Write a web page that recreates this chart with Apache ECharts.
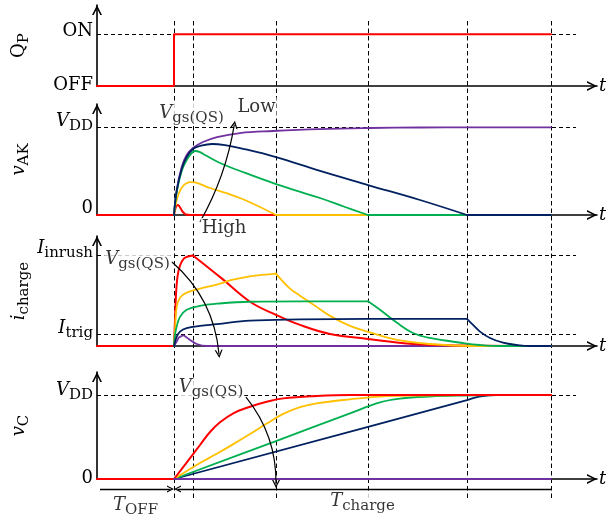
<!DOCTYPE html>
<html>
<head>
<meta charset="utf-8">
<title>Charging waveforms</title>
<script src="https://cdn.jsdelivr.net/npm/echarts@6.0.0/dist/echarts.min.js"></script>
<style>
  html, body { margin: 0; padding: 0; background: #fff; }
  #chart { width: 606px; height: 523px; }
</style>
</head>
<body>
<div id="chart"></div>
<script>
// switching instants on the time axis (arbitrary units, axis runs 0..100)
var marks = [15.4, 19.2, 35.8, 54.2, 74.0, 90.8];
var refEnd = 95.8;

// gate signal Q_P
var qpTickValues = [0, 1];
var qpTickLabels = ['OFF', 'ON'];
var qpStep = [[0, 0], [15.4, 0], [15.4, 1], [90.8, 1]];

// v_AK, normalised to V_DD
var vakTickValues = [0, 1];
var vakTickLabels = ['0', 'V_DD'];
var vakRed = [[0, 0], [15.4, 0], [15.6, 0.057], [15.8, 0.091], [16.14, 0.114], [16.4, 0.103], [16.8, 0.068], [17.2, 0.034], [17.8, 0.006], [18.6, 0], [90.8, 0]];
var vakYellow = [[15.4, 0], [15.8, 0.137], [16.4, 0.251], [17.2, 0.331], [18, 0.365], [18.6, 0.376], [19.6, 0.371], [22.6, 0.308], [28.6, 0.194], [35.8, 0], [90.8, 0]];
var vakGreen = [[15.4, 0], [15.94, 0.262], [16.94, 0.502], [17.94, 0.627], [18.8, 0.696], [19.6, 0.73], [20.6, 0.718], [21.6, 0.684], [24.6, 0.593], [28.6, 0.502], [35.8, 0.353], [44.6, 0.194], [49.6, 0.091], [54.2, 0], [90.8, 0]];
var vakNavy = [[15.4, 0], [15.94, 0.274], [16.94, 0.525], [17.94, 0.661], [19.2, 0.753], [20.6, 0.787], [23, 0.81], [25.6, 0.798], [28.6, 0.764], [35.8, 0.661], [44.6, 0.502], [54.2, 0.342], [64.6, 0.171], [74, 0], [90.8, 0]];
var vakPurple = [[15.4, 0], [15.94, 0.285], [16.94, 0.547], [17.94, 0.684], [19.2, 0.764], [21.2, 0.832], [24, 0.889], [28.6, 0.935], [35.2, 0.958], [44.6, 0.98], [54.6, 0.992], [64.6, 0.998], [74.6, 1], [90.8, 1]];

// i_charge, normalised to I_inrush
var icTickValues = [0, 0.129, 1];
var icTickLabels = ['0', 'I_trig', 'I_inrush'];
var icRed = [[0, 0], [15.4, 0], [15.6, 0.289], [15.8, 0.567], [16.1, 0.767], [16.6, 0.889], [17.4, 0.967], [18.2, 0.989], [19.2, 1], [25, 0.744], [30.6, 0.489], [35.8, 0.344], [40.6, 0.233], [46.6, 0.133], [54.2, 0.078], [63.2, 0.022], [74, 0.005], [90.8, 0]];
var icYellow = [[15.4, 0], [15.6, 0.178], [15.94, 0.433], [16.6, 0.533], [17.94, 0.589], [20.6, 0.633], [23.94, 0.678], [27.2, 0.733], [30.6, 0.77], [35.8, 0.8], [38.6, 0.633], [40.6, 0.556], [43.6, 0.444], [46.6, 0.333], [50.6, 0.222], [54.2, 0.156], [60, 0.067], [66.6, 0.022], [74.6, 0], [90.8, 0]];
var icGreen = [[15.4, 0], [15.6, 0.122], [15.94, 0.214], [16.6, 0.322], [17.94, 0.4], [20.6, 0.444], [23.94, 0.467], [30.6, 0.489], [40.6, 0.494], [54.2, 0.494], [56.6, 0.4], [60, 0.256], [63.2, 0.144], [66.6, 0.089], [73.2, 0.033], [76.6, 0.011], [80.6, 0], [90.8, 0]];
var icNavy = [[15.4, 0], [15.94, 0.103], [16.6, 0.159], [17.94, 0.197], [20.6, 0.222], [23.94, 0.241], [30.6, 0.281], [40.6, 0.294], [54.2, 0.3], [74, 0.3], [75.2, 0.233], [76.6, 0.159], [78.6, 0.089], [81.2, 0.037], [84, 0.011], [86.6, 0], [90.8, 0]];
var icPurple = [[15.4, 0], [16, 0.056], [16.4, 0.094], [16.94, 0.111], [17.26, 0.117], [17.8, 0.1], [18.6, 0.067], [19.94, 0.022], [21.94, 0], [90.8, 0]];

// v_C, normalised to V_DD
var vcTickValues = [0, 1];
var vcTickLabels = ['0', 'V_DD'];
var vcRed = [[0, 0], [15.4, 0], [18, 0.2], [20.6, 0.405], [22.6, 0.56], [24.6, 0.675], [27.26, 0.782], [30.6, 0.861], [33.94, 0.92], [37.26, 0.96], [43.94, 0.988], [50.6, 1], [90.8, 1]];
var vcYellow = [[15.4, 0], [20.6, 0.19], [23.94, 0.3], [27.26, 0.415], [30.6, 0.535], [33.94, 0.66], [37.26, 0.775], [40.6, 0.855], [43.94, 0.9], [50.6, 0.949], [56.6, 0.982], [64.6, 0.994], [74, 1], [90.8, 1]];
var vcGreen = [[15.4, 0], [35.8, 0.452], [50.6, 0.782], [56.6, 0.913], [60.6, 0.958], [66.6, 0.982], [74, 0.994], [80.6, 1], [90.8, 1]];
var vcNavy = [[15.4, 0], [74, 0.94], [75.6, 0.97], [77.2, 0.988], [79.6, 0.998], [82.6, 1], [90.8, 1]];
var vcPurple = [[15.4, 0], [90.8, 0]];

var FONT = 'DejaVu Serif';
var BIG = 18, SMALL = 15;
var RED = '#ff0000', YEL = '#ffc000', GRN = '#00b050', NAVY = '#002060', PUR = '#7030a0';
// open arrow head, pointing up in its own frame
var chev = 'path://M0,10L5,0L10,10L8.3,10L5,3.4L1.7,10Z';

function txt(size, italic, up) {
  return {
    fontFamily: FONT, fontSize: size, fontStyle: italic ? 'italic' : 'normal', color: '#000',
    lineHeight: size + 2, padding: up >= 0 ? [0, 0, 2 * up, 0] : [-2 * up, 0, 0, 0]
  };
}
function split(label) {
  var k = label.indexOf('_');
  return k < 0 ? [label, ''] : [label.slice(0, k), label.slice(k + 1)];
}
// single letters are math symbols (italic), except the switch name Q
function italicOf(s) { return /^[a-zA-Z]$/.test(s) && s !== 'Q'; }
function richFor(labels, shifts, key) {
  var rich = {};
  labels.forEach(function (lab, i) {
    var p = split(lab);
    rich[key + 'm' + i] = txt(BIG, italicOf(p[0]), shifts[i]);
    rich[key + 's' + i] = txt(SMALL, false, shifts[i] - 5);
  });
  return rich;
}
function fmt(labels, i, key) {
  var p = split(labels[i]);
  return '{' + key + 'm' + i + '|' + p[0] + '}' + (p[1] ? '{' + key + 's' + i + '|' + p[1] + '}' : '');
}
// cut a waveform at the instants where its slope jumps, so each piece can be smoothed
function splitAt(data, cuts) {
  var out = [], cur = [];
  data.forEach(function (pt, i) {
    cur.push(pt);
    if (i > 0 && i < data.length - 1 && cuts.indexOf(pt[0]) >= 0) { out.push(cur); cur = [pt]; }
  });
  out.push(cur);
  return out;
}

var panels = [
  {top: 5, bottom: 86, max: 1.567, name: 'Q_P', ticks: qpTickValues, labels: qpTickLabels, shifts: [1, 3]},
  {top: 104, bottom: 215, max: 1.266, name: 'v_AK', ticks: vakTickValues, labels: vakTickLabels, shifts: [7, 6]},
  {top: 236, bottom: 346, max: 1.215, name: 'i_charge', ticks: icTickValues, labels: icTickLabels, shifts: [-2, 6, 7.5]},
  {top: 372, bottom: 479, max: 1.274, name: 'v_C', ticks: vcTickValues, labels: vcTickLabels, shifts: [1, 5]}
];

// [data, colour, instants with a slope jump]
var curves = [
  [[qpStep, RED, null]],
  [[vakRed, RED, [marks[0]]], [vakPurple, PUR, []], [vakYellow, YEL, [marks[2]]], [vakGreen, GRN, [marks[3]]], [vakNavy, NAVY, [marks[4]]]],
  [[icPurple, PUR, []], [icRed, RED, [marks[0], marks[1]]], [icYellow, YEL, [marks[2]]], [icGreen, GRN, [marks[3]]], [icNavy, NAVY, [marks[4]]]],
  [[vcNavy, NAVY, []], [vcGreen, GRN, []], [vcYellow, YEL, []], [vcRed, RED, [marks[0]]], [vcPurple, PUR, []]]
];

var notes = [
  {g: 1, at: [18.9, 1.163], text: 'V_gs(QS)'},
  {g: 1, at: [31.9, 1.226], text: 'Low'},
  {g: 1, at: [25.4, -0.148], text: 'High'},
  {g: 2, at: [8.1, 0.961], text: 'V_gs(QS)'},
  {g: 3, at: [22.8, 1.089], text: 'V_gs(QS)'},
  {g: 3, at: [marks[0] / 2, -0.31], text: 'T_OFF'},
  {g: 3, at: [(marks[0] + marks[5]) / 2, -0.262], text: 'T_charge'}
];

var arrows = [
  {g: 1, from: [20.6, -0.08], to: [27.46, 1.03], bend: -0.09},
  {g: 2, from: [15.0, 0.928], to: [24.4, -0.088], bend: 0.2},
  {g: 3, from: [29.8, 0.976], to: [35.8, -0.06], bend: 0.18}
];

var grids = [], xAxes = [], yAxes = [], series = [];
var axisLine = {color: '#000', width: 1.6};

panels.forEach(function (p, g) {
  grids.push({left: 97, right: 9, top: p.top, height: p.bottom - p.top, outerBoundsMode: 'none'});
  xAxes.push({
    gridIndex: g, type: 'value', min: 0, max: 100,
    axisLine: {show: true, symbol: ['none', chev], symbolSize: [11, 10], symbolOffset: [0, -5], lineStyle: axisLine},
    axisTick: {show: false}, axisLabel: {show: false}, splitLine: {show: false},
    name: 't', nameLocation: 'end', nameGap: 2, nameMoveOverlap: false,
    nameTextStyle: {fontFamily: FONT, fontSize: BIG, fontStyle: 'italic', color: '#000'}
  });
  var np = split(p.name);
  yAxes.push({
    gridIndex: g, type: 'value', min: 0, max: p.max,
    axisLine: {show: true, onZero: false, symbol: ['none', chev], symbolSize: [11, 10], symbolOffset: [0, -5], lineStyle: axisLine},
    axisTick: {show: false}, splitLine: {show: false},
    axisLabel: {
      customValues: p.ticks, margin: 4, rich: richFor(p.labels, p.shifts, 'k'),
      formatter: function (v) {
        var best = 0;
        p.ticks.forEach(function (t, i) { if (Math.abs(t - v) < Math.abs(p.ticks[best] - v)) best = i; });
        return fmt(p.labels, best, 'k');
      }
    },
    name: '{n|' + np[0] + '}{ns|' + np[1] + '}', nameLocation: 'middle', nameRotate: 90, nameGap: 68, nameMoveOverlap: false,
    nameTextStyle: {rich: {n: txt(BIG, italicOf(np[0]), 0), ns: txt(SMALL, false, -5)}}
  });

  // dashed reference levels (ON, V_DD, I_trig, I_inrush)
  series.push({
    type: 'lines', coordinateSystem: 'cartesian2d', xAxisIndex: g, yAxisIndex: g, z: 1, silent: true, clip: false,
    data: p.ticks.filter(function (v) { return v > 0; }).map(function (v) { return {coords: [[0, v], [refEnd, v]]}; }),
    lineStyle: {color: '#000', width: 1, type: [4, 3], opacity: 1}
  });

  curves[g].forEach(function (c, k) {
    var parts = c[2] ? splitAt(c[0], c[2]) : [c[0]];
    parts.forEach(function (part) {
      series.push({
        type: 'line', xAxisIndex: g, yAxisIndex: g, data: part, symbol: 'none', showSymbol: false,
        smooth: c[2] ? 0.4 : false, clip: false, silent: true, z: 3 + k,
        lineStyle: {color: c[1], width: c[1] === RED ? 2 : 1.8, cap: 'round', join: 'round'}
      });
    });
  });
});

// overlay grid carrying the vertical dashed markers through all panels
grids.push({left: 97, right: 9, top: 18, height: 480, outerBoundsMode: 'none'});
xAxes.push({gridIndex: 4, type: 'value', min: 0, max: 100, show: false});
yAxes.push({gridIndex: 4, type: 'value', min: 0, max: 1, show: false});
series.push({
  type: 'lines', coordinateSystem: 'cartesian2d', xAxisIndex: 4, yAxisIndex: 4, z: 1, silent: true, clip: false,
  data: marks.map(function (t) { return {coords: [[t, 0], [t, 1]]}; }),
  lineStyle: {color: '#000', width: 1, type: [4.5, 3], opacity: 1}
});

// T_OFF / T_charge brackets under the v_C panel
series.push({
  type: 'lines', coordinateSystem: 'cartesian2d', xAxisIndex: 3, yAxisIndex: 3, z: 6, silent: true, clip: false,
  symbol: ['none', chev], symbolSize: [8, 7],
  data: [
    {coords: [[0.6, -0.119], [marks[0] - 0.7, -0.119]]},
    {coords: [[marks[5], -0.119], [marks[0] + 0.7, -0.119]]}
  ],
  lineStyle: {color: '#000', width: 1.3, opacity: 1}
});

arrows.forEach(function (a) {
  series.push({
    type: 'lines', coordinateSystem: 'cartesian2d', xAxisIndex: a.g, yAxisIndex: a.g, z: 9, silent: true, clip: false,
    symbol: ['none', chev], symbolSize: [9, 8],
    data: [{coords: [a.from, a.to], lineStyle: {curveness: a.bend}}],
    lineStyle: {color: '#000', width: 1.2, opacity: 1}
  });
});

notes.forEach(function (n) {
  series.push({
    type: 'scatter', xAxisIndex: n.g, yAxisIndex: n.g, data: [n.at], symbolSize: 0, clip: false, silent: true, z: 10,
    label: {
      show: true, position: 'inside', backgroundColor: '#fff', padding: [0, 1],
      formatter: fmt([n.text], 0, 'a'), rich: richFor([n.text], [0], 'a')
    }
  });
});

var chart = echarts.init(document.getElementById('chart'));
chart.setOption({
  animation: false,
  backgroundColor: '#fff',
  textStyle: {fontFamily: FONT},
  grid: grids, xAxis: xAxes, yAxis: yAxes, series: series
});
</script>
</body>
</html>
